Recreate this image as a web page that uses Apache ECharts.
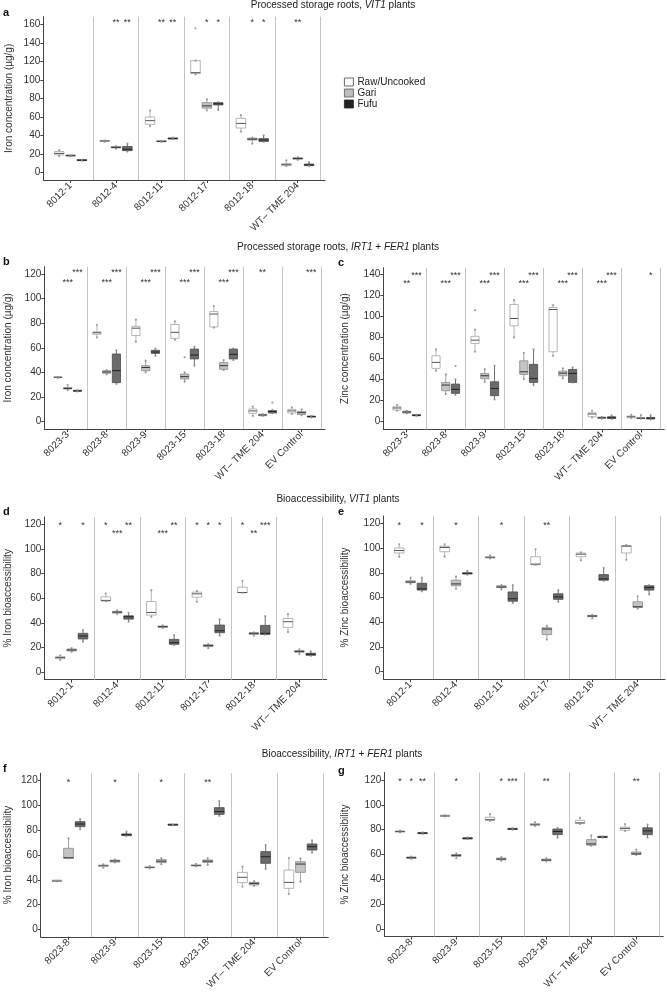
<!DOCTYPE html>
<html><head><meta charset="utf-8">
<script src="https://cdn.jsdelivr.net/npm/echarts@6/dist/echarts.min.js"></script>
<style>html,body{margin:0;padding:0;background:#fff}#c{width:667px;height:996px}</style>
</head><body><div id="c"></div><script>
// ---------- categories ----------
const catsVIT = ["8012-1","8012-4","8012-11","8012-17","8012-18","WT– TME 204"];
const catsIRT7 = ["8023-3","8023-8","8023-9","8023-15","8023-18","WT– TME 204","EV Control"];
const catsIRT6 = ["8023-8","8023-9","8023-15","8023-18","WT– TME 204","EV Control"];
const groups = ["Raw/Uncooked","Gari","Fufu"];
// ---------- tick labels ----------
const ticks160 = [0,20,40,60,80,100,120,140,160];
const ticks140 = [0,20,40,60,80,100,120,140];
const ticks120 = [0,20,40,60,80,100,120];
// ---------- box values [min, q1, median, q3, max] ----------
// a: iron conc, VIT1
const rawA = [[17.5,19,20.5,22.5,24],[33,33.5,34,34.2,34.5],[50,52,56,60,67],[106,107,108,121,121],[44,48,53,58.5,62],[7,7.2,8.3,9.5,13]];
const gariA = [[17.5,17.8,18,18.3,18.5],[25.5,26.5,27,28,28.5],[33,33.2,33.5,33.8,34],[67,69.5,72,75.5,79],[31,35,36,37,37.5],[13.5,14.2,15,15.8,16.5]];
const fufuA = [[12.5,12.7,13,13.2,13.5],[22.5,23.5,25,28,31],[36,36.2,36.5,37,37.5],[67.5,73,74.3,75.5,76],[33,33.5,35,36.5,40],[7,7.3,8,9,11]];
const outA = [[3,0,156]];
const starsA = [[1,1,164,"**"],[1,2,164,"**"],[2,1,164,"**"],[2,2,164,"**"],[3,1,164,"*"],[3,2,164,"*"],[4,1,164,"*"],[4,2,164,"*"],[5,1,164,"**"]];
// b: iron conc, IRT1+FER1
const rawB = [[35.5,35.8,36,36.2,36.5],[68.5,71,72.3,73,78.5],[65,70,76,77.5,83],[66.5,67.7,72.6,79,81.5],[76.5,77,87.5,89.5,94],[4.6,6.8,8.7,10.3,12.2],[6.2,7,8.7,10,11.6]];
const gariB = [[25.5,26.5,27,27.8,30],[38.5,39.3,40.4,41.4,42],[40,41.4,44,45.5,49.6],[32.5,34.7,36.6,38.7,40],[42,42.5,45.5,48,50],[4.6,4.8,5.4,6,6.2],[5.1,5.7,7.3,8.4,10]];
const fufuB = [[24.5,24.7,25,25.3,25.5],[30.6,31.7,41.5,55,58],[53.4,55.5,56.6,58,59.3],[45.5,51,54.2,59,61],[50,51,54.7,59,59.6],[6.8,7,8.3,8.9,9.5],[3.5,3.7,4.1,4.5,4.6]];
const outB = [[3,1,52.3],[5,2,15.4]];
const starsB = [[0,1,115,"***"],[0,2,122.7,"***"],[1,1,115,"***"],[1,2,122.7,"***"],[2,1,115,"***"],[2,2,122.7,"***"],[3,1,115,"***"],[3,2,122.7,"***"],[4,1,115,"***"],[4,2,122.7,"***"],[5,1,122.7,"**"],[6,2,122.7,"***"]];
// c: zinc conc, IRT1+FER1
const rawC = [[10.4,11.1,13,14.2,15.8],[48.4,50.6,56.3,62.6,68.6],[66.4,74.3,77.4,81,87.5],[80,91,98,111.3,115.4],[62.6,66.4,106.5,108.4,110.6],[4.1,4.7,7.3,8.5,10.4],[3.5,3.7,4.7,5.4,6.6]];
const gariC = [[7.9,8.2,9.2,10,10.4],[26.2,29.4,34.8,37.3,44.9],[37.9,40.8,43.6,45.8,49.9],[40.5,44.9,47.4,57.8,65.4],[41.1,43.6,46.1,48,50.6],[2.8,3,3.8,4.4,4.7],[2.8,3,3.2,3.5,6.3]];
const fufuC = [[5.5,5.7,6,6.3,6.5],[25.3,26.9,30.7,35.7,40.1],[21.2,24.7,31.6,37.9,53.1],[34.8,37.3,41.1,54.4,68.6],[37,37.3,45.8,49.6,51.5],[2.5,3,3.8,4.7,6],[2.2,2.6,3.2,4.1,6.3]];
const outC = [[2,0,105.9],[1,2,52.8]];
const starsC = [[0,1,133,"**"],[0,2,141,"***"],[1,1,133,"***"],[1,2,141,"***"],[2,1,133,"***"],[2,2,141,"***"],[3,1,133,"***"],[3,2,141,"***"],[4,1,133,"***"],[4,2,141,"***"],[5,1,133,"***"],[5,2,141,"***"],[6,2,141,"*"]];
// d: iron bioaccessibility, VIT1
const rawD = [[10,11.1,11.9,12.7,13.8],[57.7,57.8,58.3,61.2,63.9],[45,46.4,48.5,57.4,66.6],[57.2,60.9,63.6,65,66],[64.5,64.6,64.7,69,74.2],[32.6,36.4,41,43.7,47.2]];
const gariD = [[16.5,17.3,18.1,18.9,19.7],[47.2,48,48.8,49.4,50.2],[36,36.5,37,37.5,38],[19.5,20.8,21.6,22.4,22.9],[29.7,30.7,31.6,32.1,32.4],[14.8,16.2,17,17.5,18.6]];
const fufuD = [[24.8,27,29.4,31.6,34.3],[41,43.1,45,45.8,48.3],[22.1,22.7,24,26.7,30.2],[29.7,32.1,33.7,38.3,42.9],[30.5,30.7,31.6,38,45.6],[13.2,13.8,14.6,15.4,17]];
const outD = [];
const starsD = [[0,0,120.5,"*"],[0,2,120.5,"*"],[1,0,120.5,"*"],[1,1,113.8,"***"],[1,2,120.5,"**"],[2,1,113.8,"***"],[2,2,120.5,"**"],[3,0,120.5,"*"],[3,1,120.5,"*"],[3,2,120.5,"*"],[4,0,120.5,"*"],[4,1,113.8,"**"],[4,2,120.5,"***"]];
// e: zinc bioaccessibility, VIT1
const rawE = [[93,96,98,100,103],[93,97,100.5,101.5,103],[91.5,92,92.5,93,94],[86.5,86.5,87,93,99],[90,93,95,96,96.5],[90.5,96,101.5,102,102.5]];
const gariE = [[71,72,72.5,73.5,76],[67,69.5,71,74,77],[66.5,68,68.5,69.5,70],[26,30,34.5,35.5,37],[43,44.5,45,45.5,46],[51,52,52.5,56.5,61]];
const fufuE = [[65,66,67,71.5,76],[78.5,79,79.5,80,81.5],[55.5,57,59,64.5,70],[56.5,58.5,60.5,63,66],[73.5,74,75,78.5,84],[62.5,66,68,69.5,70]];
const outE = [];
const starsE = [[0,0,120,"*"],[0,2,120,"*"],[1,1,120,"*"],[2,1,120,"*"],[3,1,120,"**"]];
// f: iron bioaccessibility, IRT1+FER1
const rawF = [[38.8,38.9,39,39.1,39.2],[49.8,50.6,51.4,51.9,52.5],[49.2,49.6,50,50.5,51],[50.8,51.1,51.5,52.2,52.8],[34.4,37.7,42,46,50.6],[28.5,33.1,37.9,47.9,57.5]];
const gariF = [[57.3,57.3,57.8,65.4,73.4],[54,54.3,55.2,55.8,56.3],[52.5,53.8,55,56.3,57.5],[52,54,55,56,57.5],[35,35.8,37.1,37.9,39],[38.5,46,52.7,54.6,57.3]];
const fufuF = [[80.7,82.9,85,86.9,89],[75.3,75.6,76.4,77,78.8],[84,84.1,84.3,84.5,84.6],[91.5,92.8,95,98.2,103.6],[48.7,53.3,58.6,62.7,68],[61.9,64,66.7,68.9,71.8]];
const outF = [];
const starsF = [[0,1,120.5,"*"],[1,1,120.5,"*"],[2,1,120.5,"*"],[3,1,120.5,"**"]];
// g: zinc bioaccessibility, IRT1+FER1
const rawG = [[77.8,78,78.5,79,79.2],[90.6,90.8,91,91.3,91.5],[87,87.5,88,90,92.5],[83,83.5,84,85,86],[84.5,85,85.5,87.5,89.5],[79,79.5,81,82,84.5]];
const gariG = [[56.5,56.8,57.5,58,58.3],[57,58.5,59.3,60,61],[55,55.8,56.3,57.2,58],[54.5,55,55.5,56.3,57],[67,67.5,68.5,72,75.5],[59.5,60,60.5,62,64]];
const fufuG = [[76.5,76.8,77.2,77.5,77.8],[72.3,72.5,73,73.5,73.8],[80,80.2,80.5,81,81.2],[73.5,76,78.5,80.5,81.5],[73.5,73.8,74,74.3,74.6],[73.5,76,79,81.5,84]];
const outG = [];
const starsG = [[0,0,120,"*"],[0,1,120,"*"],[0,2,120,"**"],[1,1,120,"*"],[2,1,120,"*"],[2,2,120,"***"],[3,1,120,"**"],[5,1,120,"**"]];

// ---------- layout / style ----------
const FONT = "'Liberation Sans', Arial, Helvetica, sans-serif";
const panels = [
  {cats:catsVIT, raw:rawA, gari:gariA, fufu:fufuA, out:outA, stars:starsA, ticks:ticks160, ymin:-8.3, ymax:168.6, name:"Iron concentration (µg/g)", l:43.3, r:325, t:16.7, b:180, gap:29, letter:"a", lx:3, ly:13},
  {cats:catsIRT7, raw:rawB, gari:gariB, fufu:fufuB, out:outB, stars:starsB, ticks:ticks120, ymin:-6, ymax:126, name:"Iron concentration (µg/g)", l:44.3, r:325, t:266.7, b:429, gap:31, letter:"b", lx:3, ly:262},
  {cats:catsIRT7, raw:rawC, gari:gariC, fufu:fufuC, out:outC, stars:starsC, ticks:ticks140, ymin:-7.3, ymax:146.2, name:"Zinc concentration (µg/g)", l:383.3, r:664.3, t:267.7, b:429.4, gap:33, letter:"c", lx:338, ly:263},
  {cats:catsVIT, raw:rawD, gari:gariD, fufu:fufuD, out:outD, stars:starsD, ticks:ticks120, ymin:-6, ymax:126, name:"% Iron bioaccessibility", l:44.3, r:326.7, t:516.9, b:679.7, gap:31, letter:"d", lx:3, ly:512},
  {cats:catsVIT, raw:rawE, gari:gariE, fufu:fufuE, out:outE, stars:starsE, ticks:ticks120, ymin:-6, ymax:126, name:"% Zinc bioaccessibility", l:383.3, r:665, t:515.9, b:679.1, gap:33, letter:"e", lx:338, ly:512},
  {cats:catsIRT6, raw:rawF, gari:gariF, fufu:fufuF, out:outF, stars:starsF, ticks:ticks120, ymin:-6, ymax:126, name:"% Iron bioaccessibility", l:40.7, r:328.3, t:773.2, b:936.8, gap:27.5, letter:"f", lx:3, ly:769},
  {cats:catsIRT6, raw:rawG, gari:gariG, fufu:fufuG, out:outG, stars:starsG, ticks:ticks120, ymin:-6, ymax:126, name:"% Zinc bioaccessibility", l:384.3, r:663.3, t:772.5, b:936.5, gap:34, letter:"g", lx:338, ly:771}
];
const offsets = [-0.25, 0, 0.25];
const boxW = 0.21;
const gstyle = [
  {fill:"#ffffff", stroke:"#a3a3a3", med:"#555555"},
  {fill:"#c4c4c4", stroke:"#8a8a8a", med:"#333333"},
  {fill:"#6b6b6b", stroke:"#4a4a4a", med:"#222222"}
];

function boxRender(g) {
  const st = gstyle[g];
  return function (params, api) {
    const x = api.value(0);
    const lo = api.coord([x, api.value(1)]);
    const q1 = api.coord([x, api.value(2)]);
    const md = api.coord([x, api.value(3)]);
    const q3 = api.coord([x, api.value(4)]);
    const hi = api.coord([x, api.value(5)]);
    const w = api.size([boxW, 0])[0];
    const h = Math.max(q1[1] - q3[1], 1);
    return {type:"group", children:[
      {type:"line", shape:{x1:lo[0], y1:lo[1], x2:q1[0], y2:q1[1]}, style:{stroke:st.stroke, lineWidth:0.8}},
      {type:"line", shape:{x1:q3[0], y1:q3[1], x2:hi[0], y2:hi[1]}, style:{stroke:st.stroke, lineWidth:0.8}},
      {type:"rect", shape:{x:q1[0]-w/2, y:q1[1]-h, width:w, height:h}, style:{fill:st.fill, stroke:st.stroke, lineWidth:0.8}},
      {type:"line", shape:{x1:md[0]-w/2, y1:md[1], x2:md[0]+w/2, y2:md[1]}, style:{stroke:st.med, lineWidth:1}}
    ]};
  };
}

const grid = [], xAxis = [], yAxis = [], series = [], graphic = [];
panels.forEach((p, i) => {
  const n = p.cats.length;
  const idx = [];
  for (let k = 1; k <= n; k++) idx.push(k);
  grid.push({left:p.l, top:p.t, width:p.r - p.l, height:p.b - p.t, containLabel:false});
  xAxis.push({
    gridIndex:i, type:"value", min:0.4, max:n + 0.6,
    axisLine:{show:true, onZero:false, lineStyle:{color:"#444", width:1}},
    axisTick:{show:true, customValues:idx, length:3, lineStyle:{color:"#444"}},
    axisLabel:{customValues:idx, rotate:45, margin:4, fontSize:10, color:"#333", fontFamily:FONT,
      formatter:(v) => p.cats[Math.round(v) - 1] || ""},
    splitLine:{show:false}
  });
  yAxis.push({
    gridIndex:i, type:"value", min:p.ymin, max:p.ymax,
    axisLine:{show:true, onZero:false, lineStyle:{color:"#444", width:1}},
    axisTick:{show:true, customValues:p.ticks, length:3, lineStyle:{color:"#444"}},
    axisLabel:{customValues:p.ticks, margin:3, fontSize:10, color:"#333", fontFamily:FONT},
    splitLine:{show:false},
    name:p.name, nameLocation:"middle", nameGap:p.gap,
    nameTextStyle:{fontSize:10, color:"#333", fontFamily:FONT}
  });
  // dividers + points
  const divs = [];
  for (let k = 1; k <= n; k++) divs.push({xAxis:k + 0.5});
  const pts = [];
  [p.raw, p.gari, p.fufu].forEach((arr, g) => arr.forEach((b, c) => {
    pts.push([c + 1 + offsets[g], b[0]]);
    pts.push([c + 1 + offsets[g], b[4]]);
  }));
  p.out.forEach(o => pts.push([o[0] + 1 + offsets[o[1]], o[2]]));
  series.push({
    type:"scatter", xAxisIndex:i, yAxisIndex:i, data:pts, symbolSize:2.2, z:3,
    itemStyle:{color:"#8c8c8c"}, silent:true,
    markLine:{silent:true, symbol:["none","none"], label:{show:false}, animation:false,
      lineStyle:{color:"#c4c4c4", width:1, type:"solid"}, data:divs}
  });
  [p.raw, p.gari, p.fufu].forEach((arr, g) => {
    series.push({
      type:"custom", name:groups[g], xAxisIndex:i, yAxisIndex:i, z:2,
      renderItem:boxRender(g),
      encode:{x:0, y:[1,2,3,4,5]},
      itemStyle:{color:gstyle[g].fill},
      data:arr.map((b, c) => [c + 1 + offsets[g]].concat(b))
    });
  });
  const sd = p.stars.map(s => [s[0] + 1 + offsets[s[1]], s[2]]);
  series.push({
    type:"custom", xAxisIndex:i, yAxisIndex:i, z:4, silent:true,
    data:sd, encode:{x:0, y:1},
    renderItem:(params, api) => {
      const c = api.coord([api.value(0), api.value(1)]);
      return {type:"text", x:c[0], y:c[1] + 2,
        style:{text:p.stars[params.dataIndex][3], fontSize:9, fontFamily:FONT, fill:"#333", align:"center", verticalAlign:"middle"}};
    }
  });
  graphic.push({type:"text", x:p.lx, y:p.ly, style:{text:p.letter, font:"bold 11px " + FONT, fill:"#111", verticalAlign:"middle"}});
});

const titleRich = {i:{fontStyle:"italic", fontSize:10, fontFamily:FONT, fill:"#222"}, n:{fontSize:10, fontFamily:FONT, fill:"#222"}};
[
  {x:333, y:5, t:"{n|Processed storage roots, }{i|VIT1}{n| plants}"},
  {x:338, y:247, t:"{n|Processed storage roots, }{i|IRT1}{n| + }{i|FER1}{n| plants}"},
  {x:338, y:499, t:"{n|Bioaccessibility, }{i|VIT1}{n| plants}"},
  {x:342, y:754, t:"{n|Bioaccessibility, }{i|IRT1}{n| + }{i|FER1}{n| plants}"}
].forEach(o => graphic.push({type:"text", x:o.x, y:o.y,
  style:{text:o.t, rich:titleRich, align:"center", verticalAlign:"middle", fontSize:10, fontFamily:FONT, fill:"#222"}}));

const chart = echarts.init(document.getElementById("c"), null, {width:667, height:996});
chart.setOption({
  animation:false,
  backgroundColor:"#fff",
  grid, xAxis, yAxis, series, graphic,
  legend:{
    orient:"vertical", left:339, top:72, itemWidth:9, itemHeight:8, itemGap:1, selectedMode:false,
    textStyle:{fontSize:10, color:"#222", fontFamily:FONT, padding:[0,0,0,-1]},
    data:[
      {name:"Raw/Uncooked", icon:"rect", itemStyle:{color:"#fff", borderColor:"#444", borderWidth:0.8}},
      {name:"Gari", icon:"rect", itemStyle:{color:"#bdbdbd", borderColor:"#555", borderWidth:0.8}},
      {name:"Fufu", icon:"rect", itemStyle:{color:"#222", borderColor:"#222", borderWidth:0.8}}
    ]
  }
});
</script></body></html>
